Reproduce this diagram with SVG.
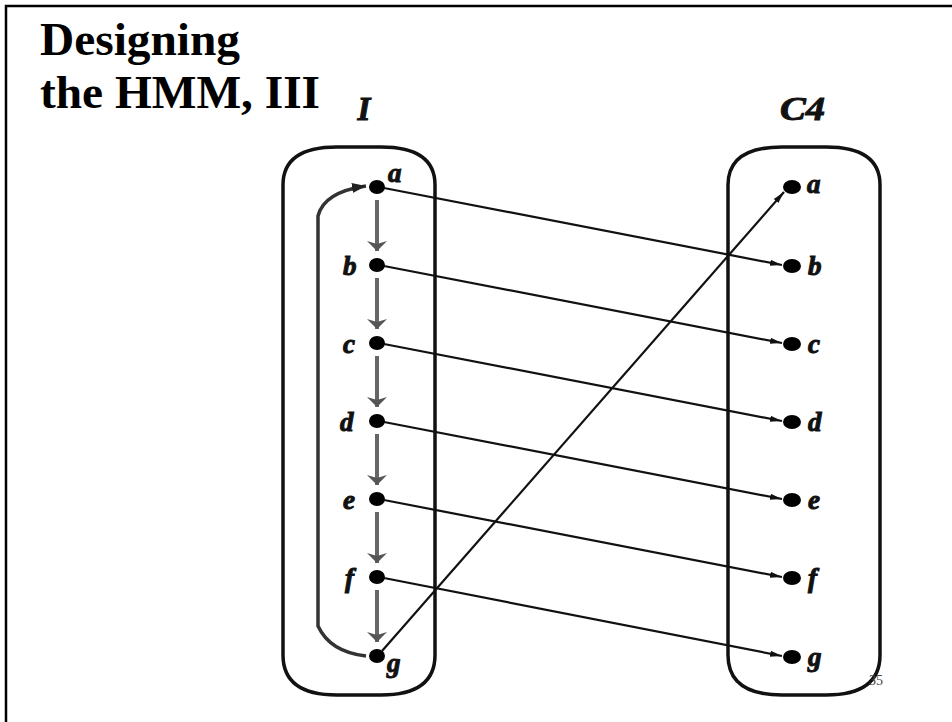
<svg xmlns="http://www.w3.org/2000/svg" width="952" height="722" viewBox="0 0 952 722">
  <style>
    .title { font-family: "Liberation Serif", "Times New Roman", serif; font-weight: bold; font-size: 46px; fill: #000; }
    .lbl { font-family: "Liberation Serif", "Times New Roman", serif; font-weight: bold; font-style: italic; font-size: 27px; fill: #111; stroke: #111; stroke-width: 1; }
    .head { font-family: "Liberation Serif", "Times New Roman", serif; font-weight: bold; font-style: italic; font-size: 33px; fill: #111; stroke: #111; stroke-width: 1; }
    .box { fill: none; stroke: #111; stroke-width: 3.5; }
    .dot { fill: #000; }
    .map { stroke: #111; stroke-width: 2.2; fill: none; marker-end: url(#arr); }
    .step { stroke: #666; stroke-width: 4; fill: none; marker-end: url(#flat); }
    .loop { stroke: #333; stroke-width: 3.5; fill: none; marker-end: url(#arr2); }
  </style>
  <defs>
    <marker id="arr" viewBox="0 0 12 8" refX="12" refY="4" markerWidth="12" markerHeight="8" markerUnits="userSpaceOnUse" orient="auto">
      <path d="M0,1 L12,4 L0,7 Z" fill="#111"/>
    </marker>
    <marker id="arr2" viewBox="0 0 14 10" refX="14" refY="5" markerWidth="14" markerHeight="10" markerUnits="userSpaceOnUse" orient="auto">
      <path d="M0,0 L14,5 L0,10 Z" fill="#222"/>
    </marker>
    <marker id="flat" viewBox="0 0 10 20" refX="10" refY="10" markerWidth="10" markerHeight="20" markerUnits="userSpaceOnUse" orient="auto">
      <path d="M0,0 L10,10 L0,20 L3,10 Z" fill="#555"/>
    </marker>
  </defs>

  <!-- slide frame -->
  <path d="M6,722 L6,6 L952,6" fill="none" stroke="#000" stroke-width="2.5"/>

  <!-- heading -->
  <text class="title" x="40" y="55" textLength="200" lengthAdjust="spacingAndGlyphs">Designing</text>
  <text class="title" x="40" y="108" textLength="280" lengthAdjust="spacingAndGlyphs">the HMM, III</text>

  <!-- column headers -->
  <text class="head" x="364" y="120" text-anchor="middle">I</text>
  <text class="head" x="780" y="120" textLength="45" lengthAdjust="spacingAndGlyphs">C4</text>

  <!-- left model I -->
  <g id="model-I">
    <path class="box" d="M283,185 Q283,147 337,147 L381,147 Q435,147 435,185 L435,655 Q435,695 381,695 L337,695 Q283,695 283,655 Z"/>
  </g>

  <!-- right model C4 -->
  <g id="model-C4">
    <path class="box" d="M728,185 Q728,147 782,147 L826,147 Q880,147 880,185 L880,655 Q880,695 826,695 L782,695 Q728,695 728,655 Z"/>
  </g>

  <!-- page number -->
  <text x="869" y="685" font-family="Liberation Serif, serif" font-size="14" fill="#444">35</text>

  <!-- states of I -->
  <g id="I-a"><ellipse class="dot" cx="377" cy="187" rx="8" ry="7"/><text class="lbl" x="388" y="182">a</text></g>
  <g id="I-b"><ellipse class="dot" cx="377" cy="265" rx="8" ry="7"/><text class="lbl" x="343" y="275">b</text></g>
  <g id="I-c"><ellipse class="dot" cx="377" cy="343" rx="8" ry="7"/><text class="lbl" x="343" y="353">c</text></g>
  <g id="I-d"><ellipse class="dot" cx="377" cy="421" rx="8" ry="7"/><text class="lbl" x="340" y="431">d</text></g>
  <g id="I-e"><ellipse class="dot" cx="377" cy="499" rx="8" ry="7"/><text class="lbl" x="343" y="509">e</text></g>
  <g id="I-f"><ellipse class="dot" cx="377" cy="577" rx="8" ry="7"/><text class="lbl" x="345" y="587">f</text></g>
  <g id="I-g"><ellipse class="dot" cx="377" cy="656" rx="8" ry="7"/><text class="lbl" x="387" y="672">g</text></g>

  <!-- states of C4 -->
  <g id="C4-a"><ellipse class="dot" cx="792" cy="187" rx="9" ry="7"/><text class="lbl" x="807" y="193">a</text></g>
  <g id="C4-b"><ellipse class="dot" cx="792" cy="266" rx="9" ry="7"/><text class="lbl" x="808" y="275">b</text></g>
  <g id="C4-c"><ellipse class="dot" cx="792" cy="344" rx="9" ry="7"/><text class="lbl" x="808" y="353">c</text></g>
  <g id="C4-d"><ellipse class="dot" cx="792" cy="422" rx="9" ry="7"/><text class="lbl" x="808" y="431">d</text></g>
  <g id="C4-e"><ellipse class="dot" cx="792" cy="500" rx="9" ry="7"/><text class="lbl" x="808" y="509">e</text></g>
  <g id="C4-f"><ellipse class="dot" cx="792" cy="578" rx="9" ry="7"/><text class="lbl" x="808" y="587">f</text></g>
  <g id="C4-g"><ellipse class="dot" cx="792" cy="657" rx="9" ry="7"/><text class="lbl" x="808" y="666">g</text></g>

  <!-- connectors -->
  <g id="connectors">
    <!-- sequential steps inside I -->
    <line class="step" x1="377" y1="200" x2="377" y2="251"/>
    <line class="step" x1="377" y1="278" x2="377" y2="329"/>
    <line class="step" x1="377" y1="356" x2="377" y2="407"/>
    <line class="step" x1="377" y1="434" x2="377" y2="485"/>
    <line class="step" x1="377" y1="512" x2="377" y2="563"/>
    <line class="step" x1="377" y1="590" x2="377" y2="642"/>
    <!-- return loop from g back to a -->
    <path class="loop" d="M366,656 Q330,652 318,626 L318,216 Q324,192 366,186"/>
    <!-- state mapping I to C4 -->
    <line class="map" x1="384" y1="188" x2="782" y2="265"/>
    <line class="map" x1="384" y1="266" x2="782" y2="343"/>
    <line class="map" x1="384" y1="344" x2="782" y2="421"/>
    <line class="map" x1="384" y1="422" x2="782" y2="499"/>
    <line class="map" x1="384" y1="500" x2="782" y2="577"/>
    <line class="map" x1="384" y1="578" x2="782" y2="656"/>
    <line class="map" x1="382" y1="651" x2="784" y2="192"/>
  </g>
</svg>
